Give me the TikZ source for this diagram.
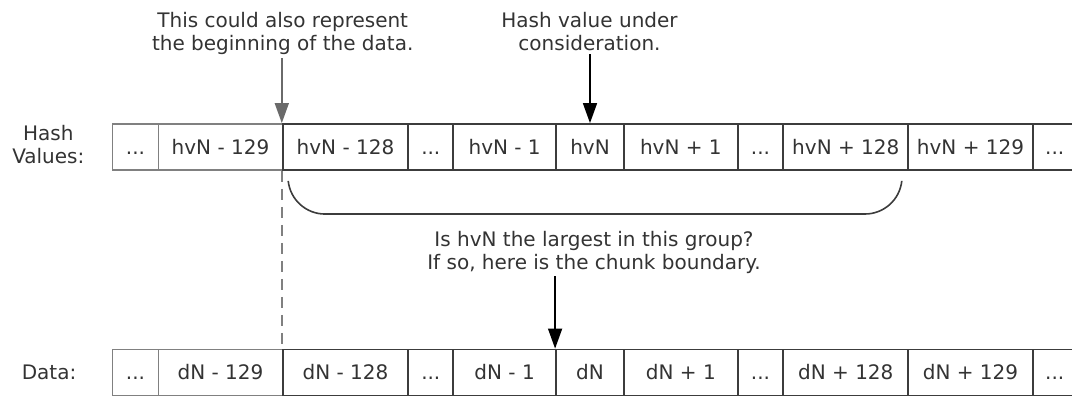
\documentclass[tikz,border=0pt]{standalone}
\usepackage{fontspec}
\setmainfont{DejaVu Sans}
\usetikzlibrary{arrows.meta}
\definecolor{ink}{HTML}{333333}
\definecolor{edge}{HTML}{3C3C3C}
\definecolor{lgray}{HTML}{808080}
\definecolor{agray}{HTML}{6A6A6A}
\begin{document}
\begin{tikzpicture}[x=1pt,y=1pt,
  font=\fontsize{20}{23.5}\selectfont, text=ink,
  cell/.style={draw=edge, line width=1.8pt, minimum height=46pt, inner sep=0pt, anchor=center,
    text height=14.6pt, text depth=0pt},
  gcell/.style={cell, draw=lgray, line width=1.5pt},
  lbl/.style={align=center, inner sep=0pt},
  blackarrow/.style={draw=black, line width=1.5pt, -{Triangle[length=20pt,width=14pt]}},
  grayarrow/.style={draw=agray, line width=1.5pt, -{Triangle[length=20pt,width=14pt]}},
  dashline/.style={draw=lgray, line width=1.5pt, dash pattern=on 11pt off 7pt},
  bracket/.style={draw=edge, line width=1.6pt}]
\useasboundingbox (0,0) rectangle (1072,-397);
\clip (0,0) rectangle (1072,-397);

% labels
\node[lbl, anchor=north] (hvlbl) at (48.3,-125) {Hash\\Values:};
\node[lbl, text height=14.6pt, text depth=0pt] (dlbl) at (49,-372.5) {Data:};

% hash row
\node[gcell, minimum width=45.6pt]  (h1)  at (135.5,-147) {...};
\node[gcell, minimum width=124.4pt] (h2)  at (220.5,-147) {hvN - 129};
\node[cell, minimum width=125.6pt]  (h3)  at (345.5,-147) {hvN - 128};
\node[cell, minimum width=45pt]     (h4)  at (430.8,-147) {...};
\node[cell, minimum width=102.7pt]  (h5)  at (504.65,-147) {hvN - 1};
\node[cell, minimum width=68pt]     (h6)  at (590,-147) {hvN};
\node[cell, minimum width=113.7pt]  (h7)  at (680.85,-147) {hvN + 1};
\node[cell, minimum width=45.6pt]   (h8)  at (760.5,-147) {...};
\node[cell, minimum width=125pt]    (h9)  at (845.8,-147) {hvN + 128};
\node[cell, minimum width=124.4pt]  (h10) at (970.5,-147) {hvN + 129};
\node[cell, minimum width=44pt]     (h11) at (1054.7,-147) {...};

% data row
\begin{scope}[every node/.append style={minimum height=45pt}]
\node[gcell, minimum width=45.6pt]  (d1)  at (135.5,-372.5) {...};
\node[gcell, minimum width=124.4pt] (d2)  at (220.5,-372.5) {dN - 129};
\node[cell, minimum width=125.6pt]  (d3)  at (345.5,-372.5) {dN - 128};
\node[cell, minimum width=45pt]     (d4)  at (430.8,-372.5) {...};
\node[cell, minimum width=102.7pt]  (d5)  at (504.65,-372.5) {dN - 1};
\node[cell, minimum width=68pt]     (d6)  at (590,-372.5) {dN};
\node[cell, minimum width=113.7pt]  (d7)  at (680.85,-372.5) {dN + 1};
\node[cell, minimum width=45.6pt]   (d8)  at (760.5,-372.5) {...};
\node[cell, minimum width=125pt]    (d9)  at (845.8,-372.5) {dN + 128};
\node[cell, minimum width=124.4pt]  (d10) at (970.5,-372.5) {dN + 129};
\node[cell, minimum width=44pt]     (d11) at (1054.7,-372.5) {...};
\end{scope}

% annotations
\node[lbl, anchor=north] (t1) at (282.7,-12) {This could also represent\\the beginning of the data.};
\node[lbl, anchor=north] (t2) at (589.5,-12) {Hash value under\\consideration.};
\node[lbl, anchor=north] (t3) at (594,-231) {Is hvN the largest in this group?\\If so, here is the chunk boundary.};

% connectors
\draw[grayarrow] ([yshift=-3pt]t1.south -| h3.north west) -- (h3.north west);
\draw[blackarrow] ([yshift=-3pt]t2.south -| h6.north) -- (h6.north);
\draw[blackarrow] ([yshift=-2pt]t3.south -| d6.north west) -- (d6.north west);
\draw[dashline] (h3.south west) -- (d3.north west);

% bracket under the group
\draw[bracket] (288.2,-180.9) arc[start angle=186, end angle=270, radius=37]
  -- (865,-214) arc[start angle=270, end angle=354, radius=37];
\end{tikzpicture}
\end{document}
